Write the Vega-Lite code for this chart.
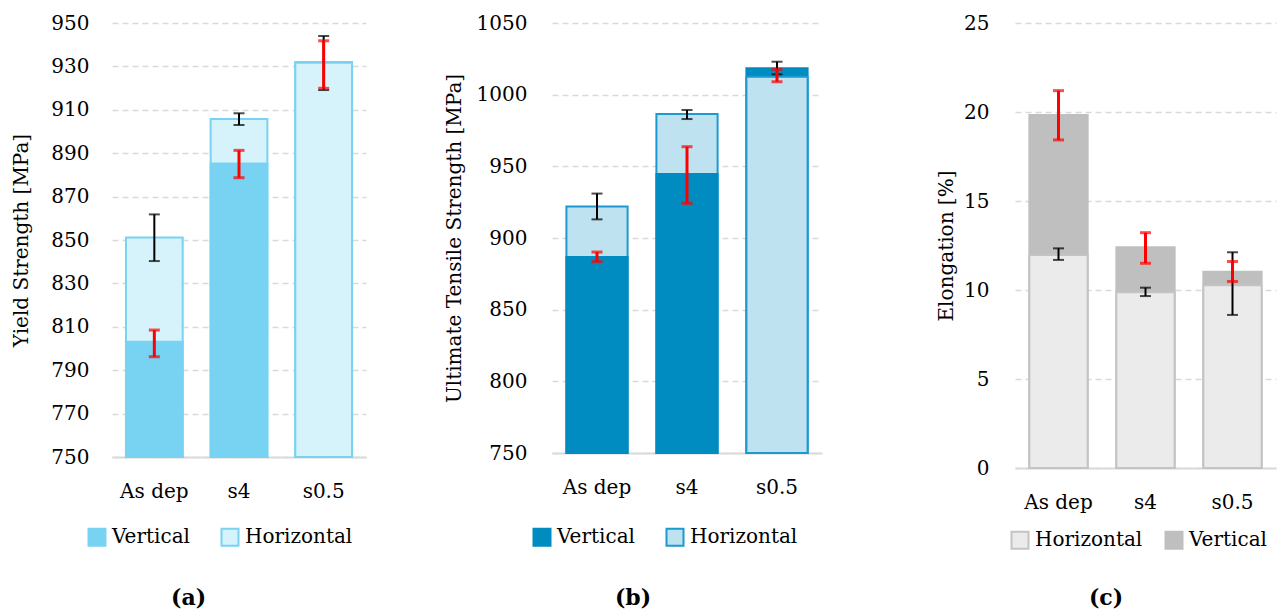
{
  "$schema": "https://vega.github.io/schema/vega-lite/v6.json",
  "background": "white",
  "padding": {"left": 11, "top": 13, "right": 3, "bottom": 0},
  "config": {
    "view": {"stroke": null},
    "font": "DejaVu Serif",
    "axis": {
      "labelFont": "DejaVu Serif", "labelFontSize": 20, "labelColor": "#000000",
      "titleFont": "DejaVu Serif", "titleFontSize": 20, "titleFontWeight": "normal", "titleColor": "#000000",
      "ticks": false, "tickSize": 0,
      "gridColor": "#d9d9d9", "gridDash": [6, 4], "gridWidth": 1.5,
      "domainColor": "#d9d9d9", "domainWidth": 2
    },
    "axisX": {"grid": false, "labelAngle": 0, "labelPadding": 24, "domain": true},
    "axisY": {"domain": false, "grid": true, "titleBaseline": "middle", "format": "d"},
    "legend": {
      "orient": "none", "direction": "horizontal", "padding": 0,
      "labelFont": "DejaVu Serif", "labelFontSize": 20, "labelColor": "#000000",
      "symbolType": "square", "symbolSize": 289, "symbolStrokeWidth": 2,
      "columnPadding": 27, "labelOffset": 5
    },
    "title": {"font": "DejaVu Serif", "fontSize": 22, "fontWeight": "bold", "color": "#000000", "orient": "bottom", "anchor": "middle", "frame": "bounds", "offset": 38}
  },
  "datasets": {
    "ys": [
      {"cond": "As dep", "orient": "Vertical", "value": 803.1, "lo": 796.2, "hi": 808.5},
      {"cond": "As dep", "orient": "Horizontal", "value": 851.1, "lo": 840.3, "hi": 861.8},
      {"cond": "s4", "orient": "Vertical", "value": 885.3, "lo": 878.7, "hi": 891.3},
      {"cond": "s4", "orient": "Horizontal", "value": 905.8, "lo": 903.0, "hi": 908.4},
      {"cond": "s0.5", "orient": "Vertical", "value": 932.0, "lo": 919.9, "hi": 941.8},
      {"cond": "s0.5", "orient": "Horizontal", "value": 931.7, "lo": 919.1, "hi": 944.0}
    ],
    "uts": [
      {"cond": "As dep", "orient": "Vertical", "value": 886.8, "lo": 883.5, "hi": 890.2},
      {"cond": "As dep", "orient": "Horizontal", "value": 922.0, "lo": 913.0, "hi": 931.0},
      {"cond": "s4", "orient": "Vertical", "value": 944.6, "lo": 924.2, "hi": 963.7},
      {"cond": "s4", "orient": "Horizontal", "value": 986.5, "lo": 983.0, "hi": 989.3},
      {"cond": "s0.5", "orient": "Vertical", "value": 1018.4, "lo": 1009.0, "hi": 1017.7},
      {"cond": "s0.5", "orient": "Horizontal", "value": 1012.5, "lo": 1014.2, "hi": 1023.0}
    ],
    "el": [
      {"cond": "As dep", "orient": "Vertical", "value": 19.83, "lo": 18.43, "hi": 21.2},
      {"cond": "As dep", "orient": "Horizontal", "value": 11.97, "lo": 11.69, "hi": 12.34},
      {"cond": "s4", "orient": "Vertical", "value": 12.4, "lo": 11.5, "hi": 13.22},
      {"cond": "s4", "orient": "Horizontal", "value": 9.87, "lo": 9.66, "hi": 10.13},
      {"cond": "s0.5", "orient": "Vertical", "value": 11.03, "lo": 10.48, "hi": 11.6},
      {"cond": "s0.5", "orient": "Horizontal", "value": 10.26, "lo": 8.6, "hi": 12.12}
    ]
  },
  "bounds": "flush",
  "spacing": 186,
  "resolve": {"scale": {"fill": "independent", "stroke": "independent", "x": "independent", "y": "independent"}, "legend": {"fill": "independent", "stroke": "independent"}},
  "hconcat": [
    {
      "width": 254, "height": 434,
      "title": {"text": "(a)", "offset": 38},
      "data": {"name": "ys"},
      "layer": [
        {
          "mark": {"type": "bar", "strokeWidth": 2},
          "encoding": {
            "x": {"field": "cond", "type": "nominal", "sort": ["As dep", "s4", "s0.5"], "title": null,
                  "scale": {"paddingInner": 0.33, "paddingOuter": 0.165}},
            "y": {"field": "value", "type": "quantitative", "stack": null, "title": "Yield Strength [MPa]",
                  "scale": {"domain": [750, 950], "zero": false, "nice": false},
                  "axis": {"values": [750, 770, 790, 810, 830, 850, 870, 890, 910, 930, 950], "labelPadding": 23, "titleX": -91}},
            "fill": {"field": "orient", "type": "nominal",
                     "scale": {"domain": ["Vertical", "Horizontal"], "range": ["#78D3F2", "#d6f2fb"]},
                     "legend": {"title": null, "legendX": -25, "legendY": 504}},
            "stroke": {"field": "orient", "type": "nominal",
                       "scale": {"domain": ["Vertical", "Horizontal"], "range": ["#78D3F2", "#78D3F2"]},
                       "legend": {"title": null, "legendX": -25, "legendY": 504}},
            "order": {"field": "value", "sort": "descending"}
          }
        },
        {
          "transform": [{"filter": "datum.orient === 'Horizontal'"}],
          "mark": {"type": "errorbar", "ticks": true, "color": "#000000", "thickness": 2, "size": 11},
          "encoding": {
            "x": {"field": "cond", "type": "nominal", "sort": ["As dep", "s4", "s0.5"], "title": null},
            "y": {"field": "lo", "type": "quantitative", "title": "Yield Strength [MPa]", "scale": {"domain": [750, 950], "zero": false, "nice": false}},
            "y2": {"field": "hi"}
          }
        },
        {
          "transform": [{"filter": "datum.orient === 'Vertical'"}],
          "mark": {"type": "errorbar", "ticks": true, "color": "#ff0000", "thickness": 3, "size": 11},
          "encoding": {
            "x": {"field": "cond", "type": "nominal", "sort": ["As dep", "s4", "s0.5"], "title": null},
            "y": {"field": "lo", "type": "quantitative", "title": "Yield Strength [MPa]", "scale": {"domain": [750, 950], "zero": false, "nice": false}},
            "y2": {"field": "hi"}
          }
        }
      ]
    },
    {
      "bounds": "flush",
      "spacing": 193,
      "resolve": {"scale": {"fill": "independent", "stroke": "independent", "x": "independent", "y": "independent"}, "legend": {"fill": "independent", "stroke": "independent"}},
      "hconcat": [
        {
          "width": 270, "height": 430,
          "title": {"text": "(b)", "offset": 38},
          "data": {"name": "uts"},
          "layer": [
            {
              "mark": {"type": "bar", "strokeWidth": 2},
              "encoding": {
                "x": {"field": "cond", "type": "nominal", "sort": ["As dep", "s4", "s0.5"], "title": null,
                      "scale": {"paddingInner": 0.32, "paddingOuter": 0.16}},
                "y": {"field": "value", "type": "quantitative", "stack": null, "title": "Ultimate Tensile Strength [MPa]",
                      "scale": {"domain": [750, 1050], "zero": false, "nice": false},
                      "axis": {"values": [750, 800, 850, 900, 950, 1000, 1050], "labelPadding": 25, "titleX": -98}},
                "fill": {"field": "orient", "type": "nominal",
                         "scale": {"domain": ["Vertical", "Horizontal"], "range": ["#008CC0", "#bfe2f0"]},
                         "legend": {"title": null, "legendX": -20, "legendY": 504}},
                "stroke": {"field": "orient", "type": "nominal",
                           "scale": {"domain": ["Vertical", "Horizontal"], "range": ["#008CC0", "#1a9ad0"]},
                           "legend": {"title": null, "legendX": -20, "legendY": 504}},
                "order": {"field": "value", "sort": "descending"}
              }
            },
            {
              "transform": [{"filter": "datum.orient === 'Horizontal'"}],
              "mark": {"type": "errorbar", "ticks": true, "color": "#000000", "thickness": 2, "size": 11},
              "encoding": {
                "x": {"field": "cond", "type": "nominal", "sort": ["As dep", "s4", "s0.5"], "title": null},
                "y": {"field": "lo", "type": "quantitative", "title": "Ultimate Tensile Strength [MPa]", "scale": {"domain": [750, 1050], "zero": false, "nice": false}},
                "y2": {"field": "hi"}
              }
            },
            {
              "transform": [{"filter": "datum.orient === 'Vertical'"}],
              "mark": {"type": "errorbar", "ticks": true, "color": "#ff0000", "thickness": 3, "size": 11},
              "encoding": {
                "x": {"field": "cond", "type": "nominal", "sort": ["As dep", "s4", "s0.5"], "title": null},
                "y": {"field": "lo", "type": "quantitative", "title": "Ultimate Tensile Strength [MPa]", "scale": {"domain": [750, 1050], "zero": false, "nice": false}},
                "y2": {"field": "hi"}
              }
            }
          ]
        },
        {
          "width": 261, "height": 445,
          "title": {"text": "(c)", "offset": 35},
          "data": {"name": "el"},
          "layer": [
            {
              "mark": {"type": "bar", "strokeWidth": 2},
              "encoding": {
                "x": {"field": "cond", "type": "nominal", "sort": ["As dep", "s4", "s0.5"], "title": null,
                      "scale": {"paddingInner": 0.33, "paddingOuter": 0.165}},
                "y": {"field": "value", "type": "quantitative", "stack": null, "title": "Elongation [%]",
                      "scale": {"domain": [0, 25], "nice": false},
                      "axis": {"values": [0, 5, 10, 15, 20, 25], "labelPadding": 26, "titleX": -69}},
                "fill": {"field": "orient", "type": "nominal",
                         "scale": {"domain": ["Horizontal", "Vertical"], "range": ["#ebebeb", "#BFBFBF"]},
                         "legend": {"title": null, "legendX": -5, "legendY": 507, "columnPadding": 18}},
                "stroke": {"field": "orient", "type": "nominal",
                           "scale": {"domain": ["Horizontal", "Vertical"], "range": ["#c4c4c4", "#BFBFBF"]},
                           "legend": {"title": null, "legendX": -5, "legendY": 507, "columnPadding": 18}},
                "order": {"field": "value", "sort": "descending"}
              }
            },
            {
              "transform": [{"filter": "datum.orient === 'Horizontal'"}],
              "mark": {"type": "errorbar", "ticks": true, "color": "#000000", "thickness": 2, "size": 11},
              "encoding": {
                "x": {"field": "cond", "type": "nominal", "sort": ["As dep", "s4", "s0.5"], "title": null},
                "y": {"field": "lo", "type": "quantitative", "title": "Elongation [%]", "scale": {"domain": [0, 25], "nice": false}},
                "y2": {"field": "hi"}
              }
            },
            {
              "transform": [{"filter": "datum.orient === 'Vertical'"}],
              "mark": {"type": "errorbar", "ticks": true, "color": "#ff0000", "thickness": 3, "size": 11},
              "encoding": {
                "x": {"field": "cond", "type": "nominal", "sort": ["As dep", "s4", "s0.5"], "title": null},
                "y": {"field": "lo", "type": "quantitative", "title": "Elongation [%]", "scale": {"domain": [0, 25], "nice": false}},
                "y2": {"field": "hi"}
              }
            }
          ]
        }
      ]
    }
  ]
}
